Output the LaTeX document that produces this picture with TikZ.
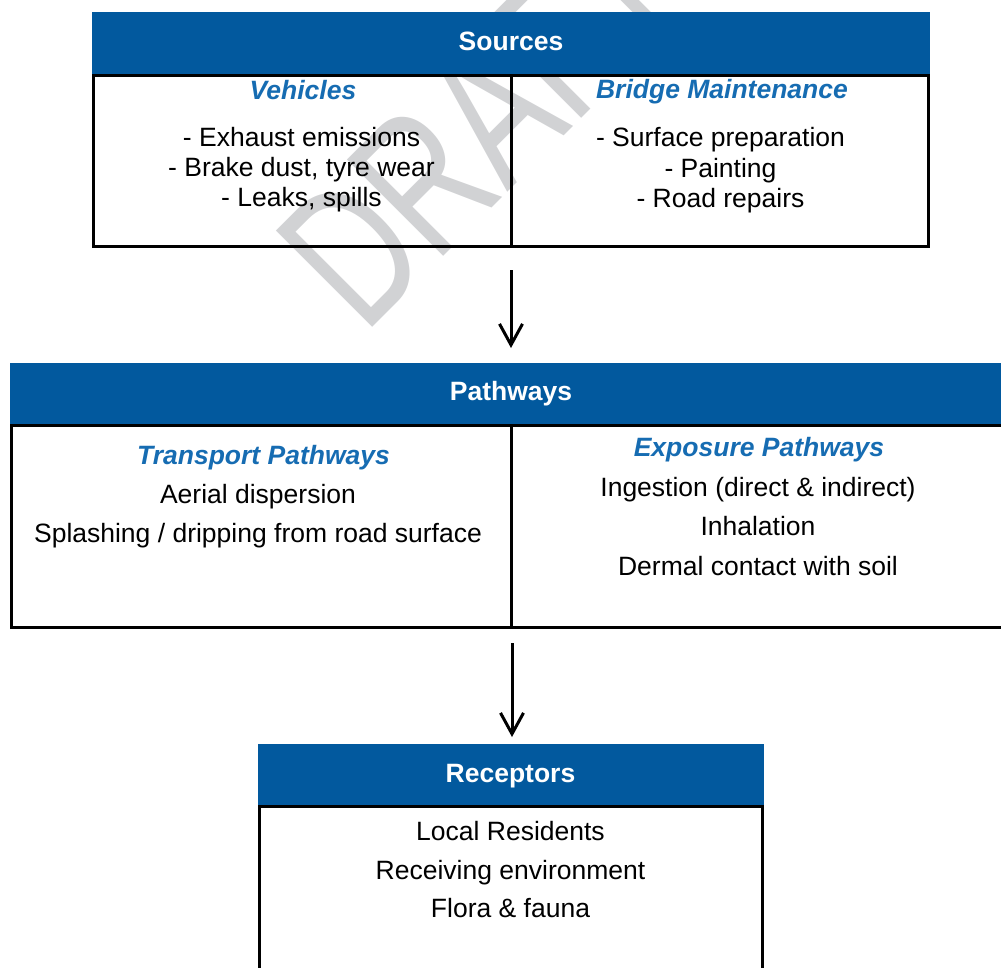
\documentclass[tikz,border=0pt]{standalone}
\usepackage{fontspec}
\setmainfont{Liberation Sans}
\usetikzlibrary{arrows.meta}

\definecolor{hdrblue}{RGB}{2,89,158}
\definecolor{subblue}{RGB}{22,108,178}
\definecolor{wmgray}{RGB}{209,210,212}

\begin{document}
\begin{tikzpicture}[x=1pt,y=-1pt,
  txt/.style={anchor=base, inner sep=0pt, font=\fontsize{26.5}{30}\selectfont},
  ttl/.style={txt, text=white, font=\fontsize{26.5}{30}\selectfont\bfseries},
  sub/.style={txt, text=subblue, font=\fontsize{26.5}{30}\selectfont\bfseries\itshape},
  frame/.style={draw=black, line width=3pt},
  flow/.style={line width=3pt, -{Straight Barb[length=21pt,width=23pt]}}]

\path[use as bounding box] (0,0) rectangle (1001,967);
\clip (0,0) rectangle (1001,967);

% condensed diagonal watermark, behind everything
\node[anchor=base west, inner sep=0pt, rotate=45, xscale=0.71, text=wmgray,
      font=\fontsize{198}{200}\selectfont] (wm) at (364,336) {DRAFT};

% ---------- Sources ----------
\fill[hdrblue] (92,12) rectangle (930,75);
\draw[frame] (93.5,75) rectangle (928.5,246.5);
\draw[frame] (511,75) -- (511,246.5);
\node[ttl] (srcT) at (511,50) {Sources};
\node[sub] (vehT) at (303,99) {Vehicles};
\node[txt] (veh1) at (301.5,146.7) {- Exhaust emissions};
\node[txt] (veh2) at (301.5,176.5) {- Brake dust, tyre wear};
\node[txt] (veh3) at (301.5,206.7) {- Leaks, spills};
\node[sub] (brgT) at (722,98.5) {Bridge Maintenance};
\node[txt] (brg1) at (720.5,146.7) {- Surface preparation};
\node[txt] (brg2) at (720.5,177) {- Painting};
\node[txt] (brg3) at (720.5,207.7) {- Road repairs};

% ---------- Pathways ----------
\fill[hdrblue] (10,363) rectangle (1012,425);
\draw[frame] (11.5,425) rectangle (1012,627.7);
\draw[frame] (511,425) -- (511,627.7);
\node[ttl] (pthT) at (511,400.7) {Pathways};
\node[sub] (trnT) at (263.5,464) {Transport Pathways};
\node[txt] (trn1) at (258,503.3) {Aerial dispersion};
\node[txt] (trn2) at (258,542.7) {Splashing / dripping from road surface};
\node[sub] (expT) at (759,456.7) {Exposure Pathways};
\node[txt] (exp1) at (758,496.7) {Ingestion (direct \& indirect)};
\node[txt] (exp2) at (758,535.7) {Inhalation};
\node[txt] (exp3) at (758,575) {Dermal contact with soil};

% ---------- Receptors ----------
\fill[hdrblue] (257.5,744) rectangle (763.5,806.5);
\draw[frame] (259,975) -- (259,806.5) -- (762,806.5) -- (762,975);
\node[ttl] (rcpT) at (510.5,782.7) {Receptors};
\node[txt] (rcp1) at (510.5,840.7) {Local Residents};
\node[txt] (rcp2) at (510.5,879) {Receiving environment};
\node[txt] (rcp3) at (510.5,917.3) {Flora \& fauna};

% ---------- flow arrows ----------
\coordinate (a1s) at (511,270);
\coordinate (a1e) at (511,348);
\coordinate (a2s) at (512,643);
\coordinate (a2e) at (512,737);
\draw[flow] (a1s) -- (a1e);
\draw[flow] (a2s) -- (a2e);
\end{tikzpicture}
\end{document}
